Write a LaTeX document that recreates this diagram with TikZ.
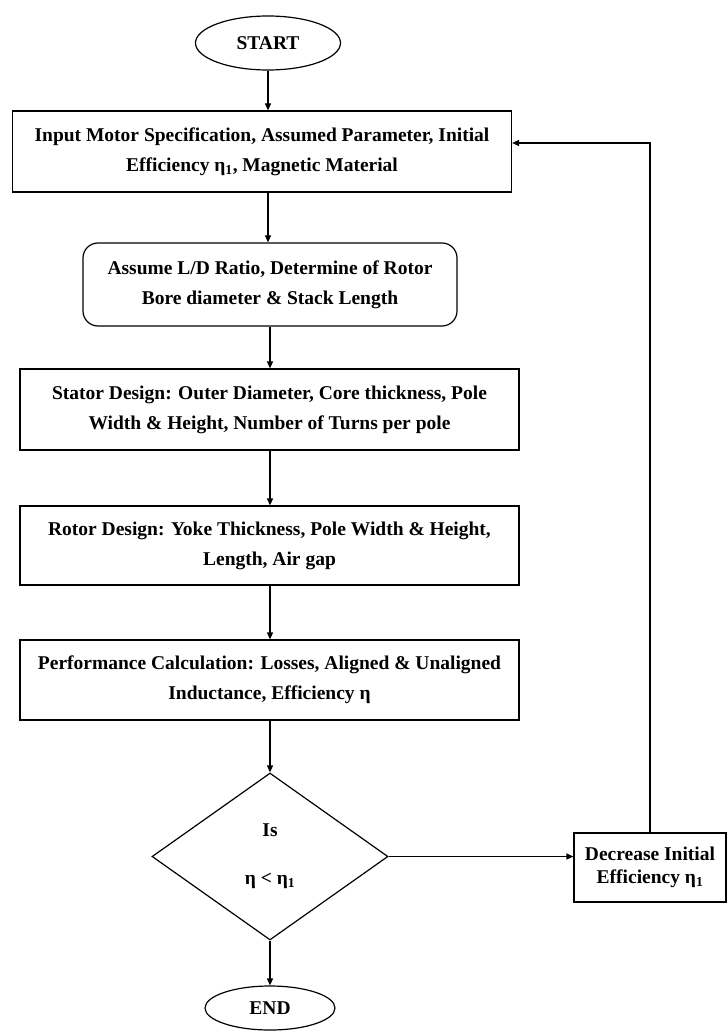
\documentclass[tikz,border=0pt]{standalone}
\usepackage{fontspec}
\setmainfont{Liberation Serif}
\usetikzlibrary{shapes.geometric,arrows.meta}

\begin{document}
\begin{tikzpicture}[x=1pt,y=-1pt,
    every node/.style={font=\bfseries\fontsize{19.5}{30}\selectfont, align=center, inner sep=0pt},
    terminal/.style={draw, ellipse, line width=1.2pt, minimum width=145pt, minimum height=54pt},
    process/.style={draw, rectangle, line width=1.2pt, minimum width=499pt, minimum height=80pt},
    decision/.style={draw, diamond, line width=1.2pt, minimum width=236pt, minimum height=167pt}]
      \useasboundingbox (0,0) rectangle (727,1032);
      \draw
        (268,43) node[terminal] (start){START}
        (262,151.5) node[process, minimum height=81pt] (input){Input Motor Specification, Assumed Parameter, Initial\\Efficiency η\textsubscript{1}, Magnetic Material}
        (270,284.5) node[process, rounded corners=15pt, minimum width=374pt, minimum height=83pt] (ratio){Assume L/D Ratio, Determine of Rotor\\Bore diameter \& Stack Length}
        (269.5,409.5) node[process, minimum height=81pt] (stator){Stator Design: Outer Diameter, Core thickness, Pole\\Width \& Height, Number of Turns per pole}
        (269.5,545.5) node[process, minimum height=79pt] (rotor){Rotor Design: Yoke Thickness, Pole Width \& Height,\\Length, Air gap}
        (269.5,680) node[process] (perf){Performance Calculation: Losses, Aligned \& Unaligned\\Inductance, Efficiency η}
        (270,856.5) node[decision] (check){Is\\[18pt]η < η\textsubscript{1}}
        (270,1008) node[terminal, minimum width=130pt, minimum height=44pt] (stop){END}
        (650,867.5) node[process, minimum width=152pt, minimum height=69pt, font=\bfseries\fontsize{19.5}{23}\selectfont] (decrease){Decrease Initial\\Efficiency η\textsubscript{1}};
      \begin{scope}[line width=1.2pt, -{Triangle[length=7pt,width=6pt]}]
        \draw (start) to (start |- input.north);
        \draw (start |- input.south) to (start |- ratio.north);
        \draw (ratio) to (ratio |- stator.north);
        \draw (ratio |- stator.south) to (ratio |- rotor.north);
        \draw (ratio |- rotor.south) to (ratio |- perf.north);
        \draw (ratio |- perf.south) to (check);
        \draw (check) to (stop);
        \draw (check.east) to (check.east -| decrease.west);
        \draw (decrease.north) |- ([yshift=8.5pt]input.east);
      \end{scope}
    \end{tikzpicture}
\end{document}
